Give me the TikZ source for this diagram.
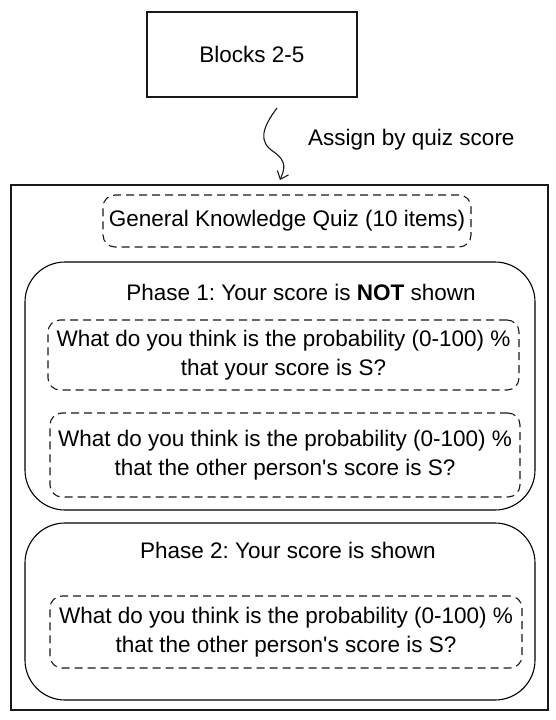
\documentclass[tikz,border=0pt]{standalone}
\usepackage{fontspec}
\setmainfont{Liberation Sans}
\usetikzlibrary{arrows.meta}
\frenchspacing
\begin{document}
\begin{tikzpicture}[x=1pt,y=-1pt,
  every node/.style={font=\fontsize{22.5}{29}\selectfont, inner sep=0pt, align=center},
  solidbox/.style={draw=black!90, line width=1.1pt},
  phasebox/.style={draw=black, line width=1.1pt, rounded corners=40pt},
  dashbox/.style={draw=black!90, line width=1.1pt, dash pattern=on 8pt off 5pt, rounded corners=12pt},
  conn/.style={draw=black!90, line width=1.1pt, -{Straight Barb[length=7pt,width=12pt]}}
]
\useasboundingbox (0,0) rectangle (556,720);
\fill[white] (0,0) rectangle (556,720);
\node[solidbox, minimum width=210pt, minimum height=85pt] (blocks) at (252,54.5) {Blocks 2-5};
\node[solidbox, minimum width=537pt, minimum height=525pt] (outer) at (279.5,447.5) {};
\coordinate (s) at (277,108);
\coordinate (e) at (280,180);
\draw[conn] (s) .. controls (262,128) and (258,142) .. (274,152) .. controls (288,162) and (284,170) .. (e);
\node[anchor=west] (assign) at (308,140) {Assign by quiz score};
\node[dashbox, minimum width=368pt, minimum height=52pt] (quiz) at (287,221) {General Knowledge Quiz (10 items)};
\node[phasebox, minimum width=510pt, minimum height=248pt] (p1) at (280,386) {};
\node (p1t) at (301,292) {Phase 1: Your score is \textbf{NOT} shown};
\node[dashbox, minimum width=471pt, minimum height=70pt] (q1) at (283.5,355) {What do you think is the probability (0-100) \%\\that your score is S?};
\node[dashbox, minimum width=470pt, minimum height=84pt] (q2) at (285,455) {What do you think is the probability (0-100) \%\\that the other person\textquotesingle s score is S?};
\node[phasebox, minimum width=510pt, minimum height=177pt] (p2) at (280,611.5) {};
\node (p2t) at (288,550) {Phase 2: Your score is shown};
\node[dashbox, minimum width=472pt, minimum height=72pt] (q3) at (286,632) {What do you think is the probability (0-100) \%\\that the other person\textquotesingle s score is S?};
\end{tikzpicture}
\end{document}
